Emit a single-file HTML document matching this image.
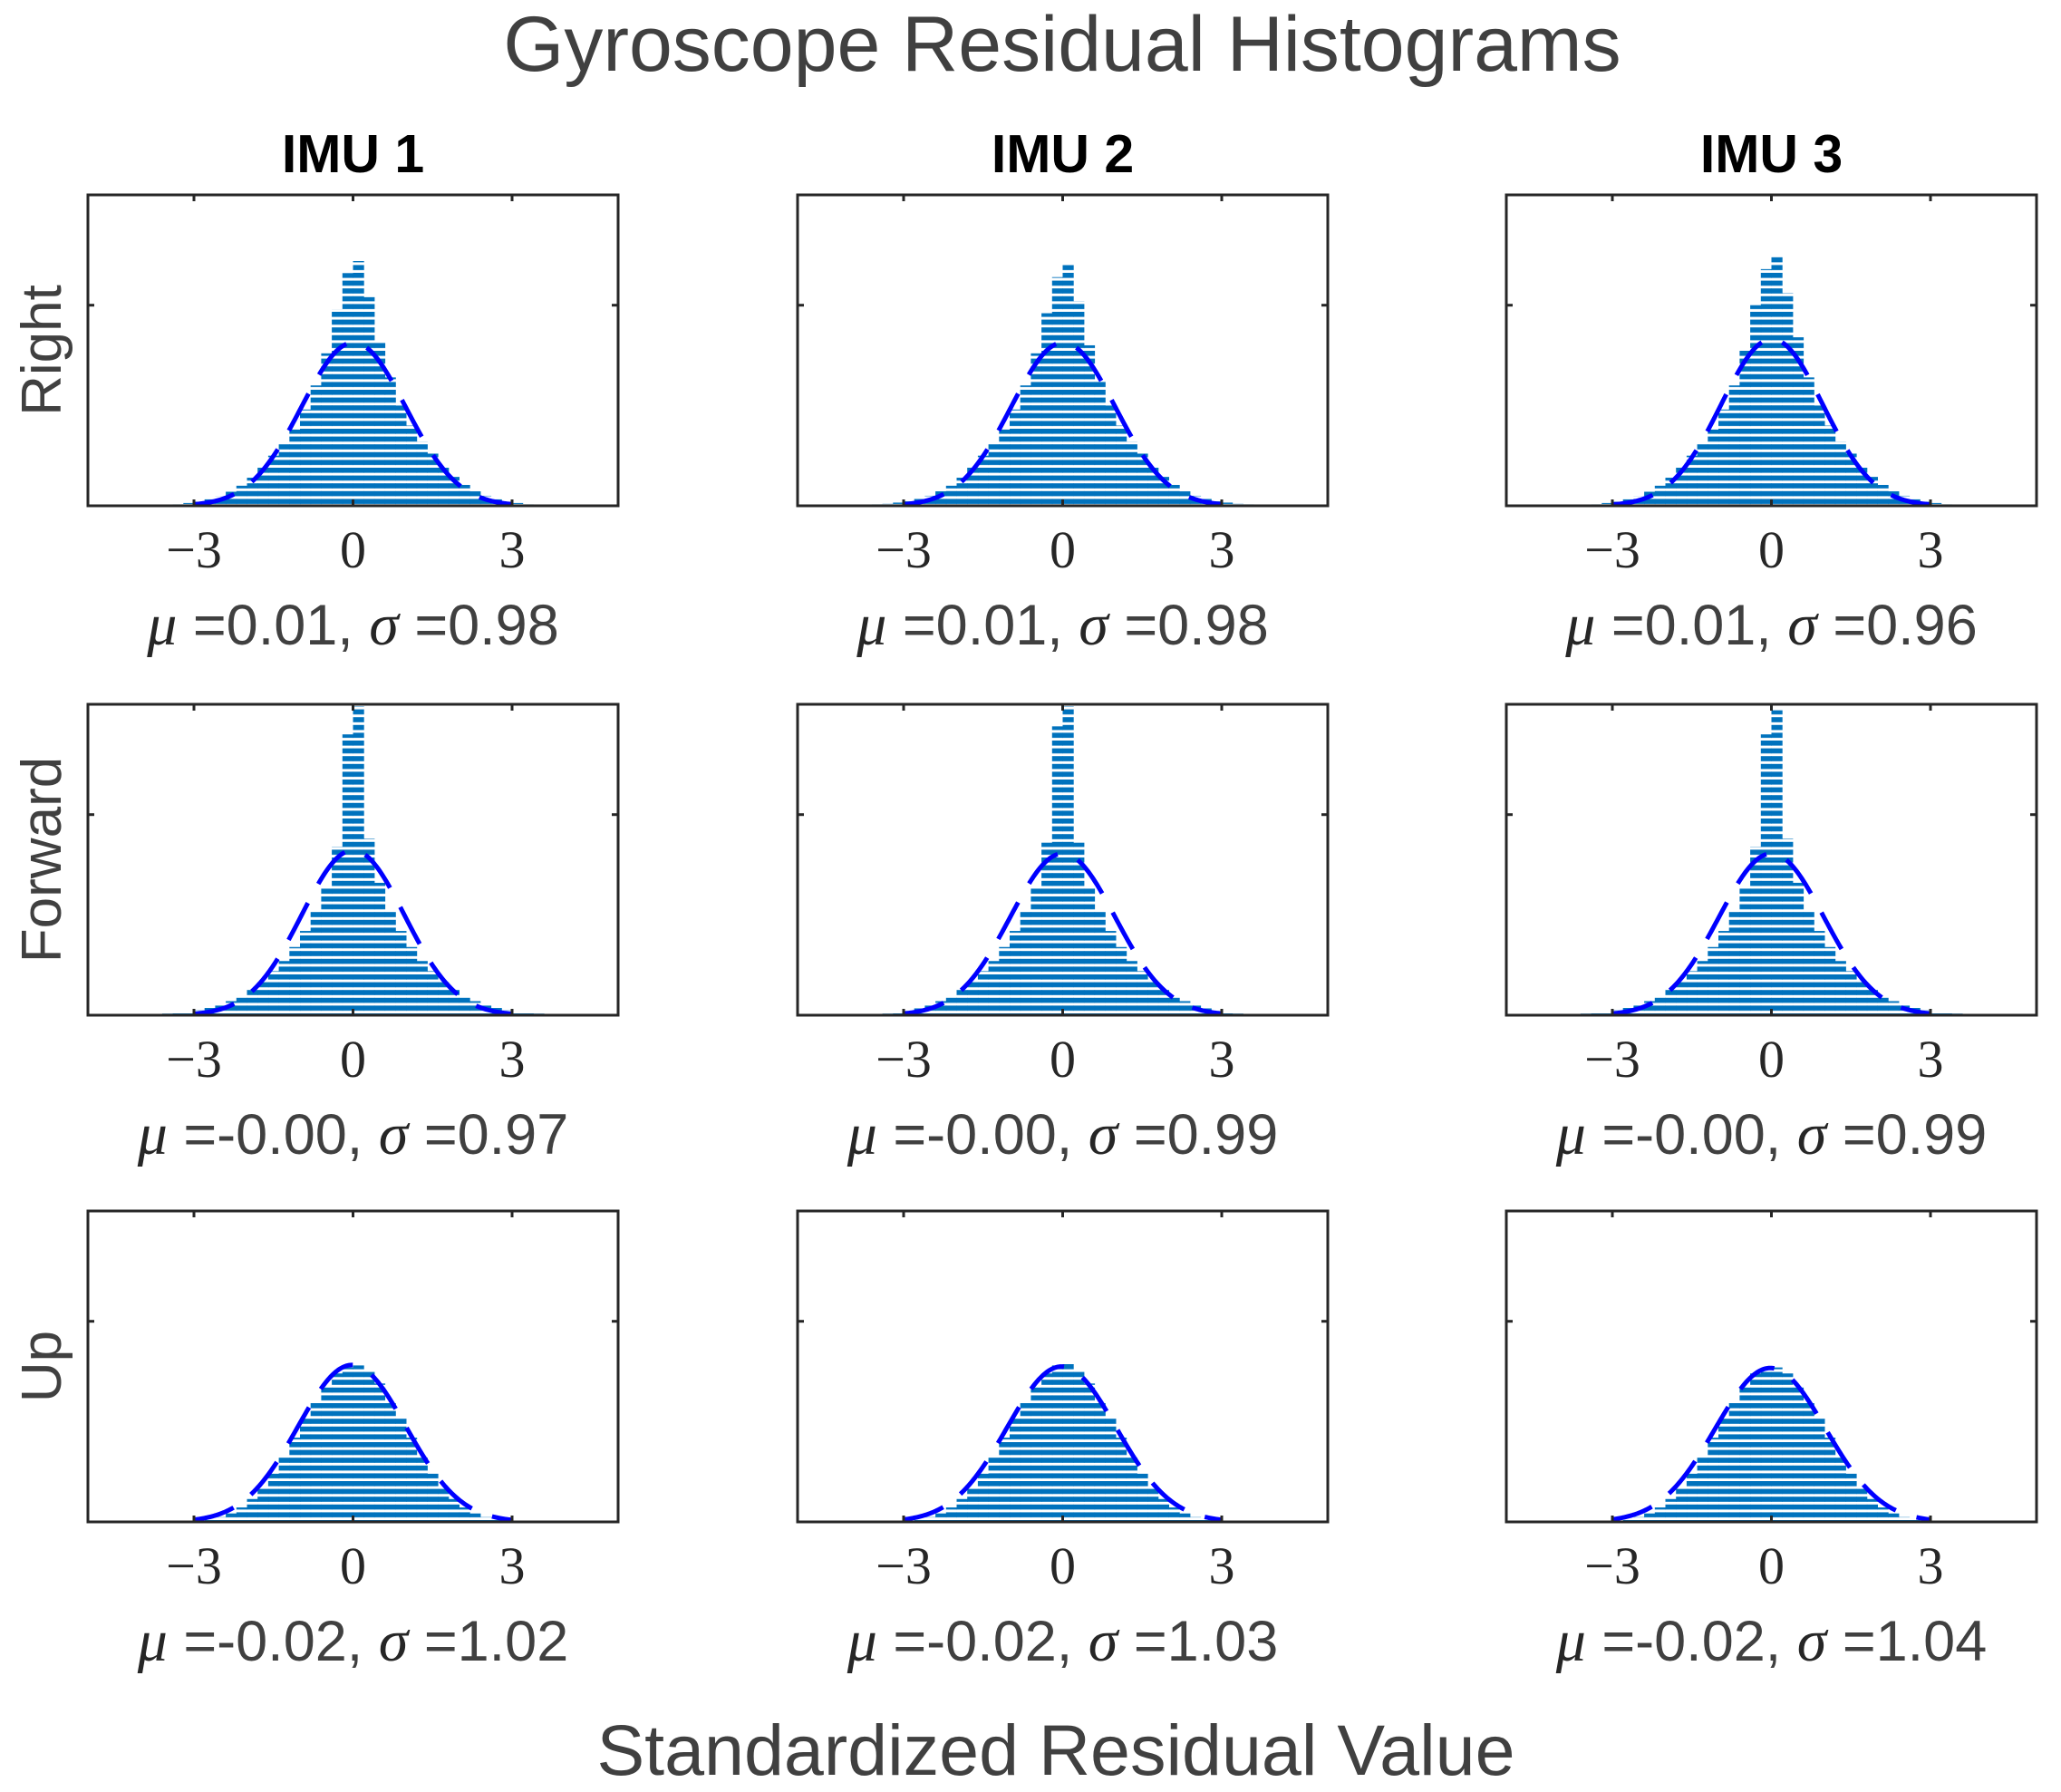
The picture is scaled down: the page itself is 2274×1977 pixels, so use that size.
<!DOCTYPE html>
<html><head><meta charset="utf-8"><style>
html,body{margin:0;padding:0;background:#fff;}
svg{display:block;}
</style></head><body>
<svg id="fig" width="2274" height="1977" viewBox="0 0 2274 1977" xmlns="http://www.w3.org/2000/svg">
<defs>
<pattern id="stripes" patternUnits="userSpaceOnUse" width="10" height="8.6"><rect x="0" y="0" width="10" height="5.6" fill="#0072BD"/></pattern>
</defs>
<text x="1172" y="78" text-anchor="middle" font-family="Liberation Sans, sans-serif" font-size="86" fill="#404040">Gyroscope Residual Histograms</text>
<text x="1165" y="1958" text-anchor="middle" font-family="Liberation Sans, sans-serif" font-size="79" fill="#404040">Standardized Residual Value</text>
<g id="panels"></g>
</svg>
<script>
const colTitles = ["IMU 1","IMU 2","IMU 3"];
const rowTitles = ["Right","Forward","Up"];
const binEdgesStart = -4;
const binWidth = 0.2;
const xTicks = [-3,0,3];
const xTickLabels = ["\u22123","0","3"];
const yTicks = [0.5];
const mus = [[0.01,0.01,0.01],[-0.00,-0.00,-0.00],[-0.02,-0.02,-0.02]];
const sigmas = [[0.98,0.98,0.96],[0.97,0.99,0.99],[1.02,1.03,1.04]];
const muLabels = [["0.01","0.01","0.01"],["-0.00","-0.00","-0.00"],["-0.02","-0.02","-0.02"]];
const sigmaLabels = [["0.98","0.98","0.96"],["0.97","0.99","0.99"],["1.02","1.03","1.04"]];
const histRight1 = [0.001,0.002,0.003,0.004,0.007,0.01,0.016,0.024,0.035,0.05,0.07,0.095,0.125,0.155,0.19,0.24,0.30,0.38,0.49,0.58,0.61,0.52,0.41,0.32,0.25,0.20,0.16,0.13,0.10,0.072,0.052,0.036,0.025,0.016,0.01,0.007,0.004,0.003,0.002,0.001];
const histRight2 = [0.002,0.003,0.004,0.005,0.008,0.011,0.017,0.025,0.036,0.05,0.07,0.095,0.125,0.155,0.19,0.24,0.30,0.38,0.48,0.57,0.60,0.51,0.40,0.31,0.25,0.20,0.16,0.13,0.10,0.072,0.052,0.036,0.025,0.017,0.011,0.008,0.005,0.004,0.003,0.002];
const histRight3 = [0.001,0.002,0.003,0.004,0.007,0.01,0.016,0.024,0.035,0.05,0.07,0.095,0.125,0.155,0.19,0.24,0.30,0.39,0.50,0.59,0.62,0.53,0.42,0.32,0.25,0.20,0.16,0.13,0.10,0.072,0.052,0.036,0.025,0.016,0.01,0.007,0.004,0.003,0.002,0.001];
const histFwd1 = [0.002,0.003,0.004,0.005,0.008,0.012,0.018,0.025,0.035,0.048,0.065,0.085,0.11,0.135,0.17,0.21,0.26,0.32,0.42,0.70,0.77,0.44,0.33,0.26,0.21,0.17,0.135,0.11,0.085,0.065,0.048,0.035,0.025,0.018,0.012,0.008,0.005,0.004,0.003,0.002];
const histFwd2 = [0.001,0.002,0.003,0.004,0.007,0.011,0.017,0.025,0.035,0.048,0.065,0.085,0.11,0.135,0.17,0.21,0.26,0.32,0.43,0.72,0.77,0.43,0.32,0.26,0.21,0.17,0.135,0.11,0.085,0.065,0.048,0.035,0.025,0.017,0.011,0.007,0.004,0.003,0.002,0.001];
const histFwd3 = [0.002,0.003,0.004,0.005,0.008,0.012,0.018,0.025,0.035,0.048,0.065,0.085,0.11,0.135,0.17,0.21,0.26,0.32,0.42,0.70,0.76,0.44,0.33,0.26,0.21,0.17,0.135,0.11,0.085,0.065,0.048,0.035,0.025,0.018,0.012,0.008,0.005,0.004,0.003,0.002];
const histUp1 = [0,0,0,0.0007,0.0015,0.003,0.006,0.012,0.021,0.036,0.057,0.085,0.12,0.165,0.21,0.26,0.30,0.34,0.37,0.385,0.39,0.375,0.345,0.30,0.26,0.21,0.165,0.12,0.085,0.057,0.036,0.021,0.012,0.006,0.003,0.0015,0.0007,0,0,0];
const histUp2 = [0,0,0,0.0007,0.0015,0.003,0.006,0.012,0.021,0.036,0.057,0.085,0.12,0.165,0.21,0.26,0.30,0.34,0.37,0.39,0.395,0.375,0.345,0.30,0.26,0.21,0.165,0.12,0.085,0.057,0.036,0.021,0.012,0.006,0.003,0.0015,0.0007,0,0,0];
const histUp3 = [0,0,0,0.0007,0.0015,0.003,0.006,0.012,0.021,0.036,0.057,0.085,0.12,0.165,0.21,0.26,0.30,0.34,0.37,0.38,0.385,0.37,0.34,0.30,0.26,0.21,0.165,0.12,0.085,0.057,0.036,0.021,0.012,0.006,0.003,0.0015,0.0007,0,0,0];
const hists = [[histRight1,histRight2,histRight3],[histFwd1,histFwd2,histFwd3],[histUp1,histUp2,histUp3]];

const NS = "http://www.w3.org/2000/svg";
const colLeft = [97,880,1662], rowTop = [215,777,1336];
const W = 585, H = 343, XMIN = -5, XMAX = 5, YMAX = 0.775;
const root = document.getElementById('panels');
function mk(tag, attrs, parent){const e=document.createElementNS(NS,tag);for(const k in attrs)e.setAttribute(k,attrs[k]);parent.appendChild(e);return e;}

for(let c=0;c<3;c++){
  const t = mk('text',{x:colLeft[c]+W/2,y:190,'text-anchor':'middle','font-family':'Liberation Sans, sans-serif','font-size':59,'font-weight':'bold',fill:'#000'},root);
  
  
  t.textContent = colTitles[c];
}
for(let r=0;r<3;r++){
  const cy = rowTop[r]+H/2;
  const t = mk('text',{x:0,y:0,transform:`translate(67,${cy}) rotate(-90)`,'text-anchor':'middle','font-family':'Liberation Sans, sans-serif','font-size':62,fill:'#404040'},root);
  
  
  t.textContent = rowTitles[r];
  for(let c=0;c<3;c++){
    const L=colLeft[c], T=rowTop[r];
    const sx = v => L + (v-XMIN)/(XMAX-XMIN)*W;
    const sy = v => T + H - v/YMAX*H;
    const g = mk('g',{},root);
    
    
    const hg = mk('g',{},g);
    
    
    const h = hists[r][c];
    for(let i=0;i<h.length;i++){
      if(h[i]<=0) continue;
      const x0 = binEdgesStart + i*binWidth;
      const b = mk('rect',{x:sx(x0),y:sy(h[i]),width:sx(x0+binWidth)-sx(x0)+0.5,height:sy(0)-sy(h[i]),fill:'url(#stripes)'},hg);
      
      
    }
    const mu=mus[r][c], s=sigmas[r][c];
    let d='';
    for(let k=0;k<=240;k++){
      const x=-3+6*k/240;
      const y=Math.exp(-0.5*((x-mu)/s)**2)/(s*Math.sqrt(2*Math.PI));
      d += (k?'L':'M')+sx(x).toFixed(2)+','+sy(y).toFixed(2);
    }
    const p = mk('path',{d:d,fill:'none',stroke:'#0000FF','stroke-width':5,'stroke-dasharray':'46 24'},g);
    
    
    const fr = mk('rect',{x:L,y:T,width:W,height:H,fill:'none',stroke:'#262626','stroke-width':3},g);
    
    
    for(let i=0;i<xTicks.length;i++){
      const x=sx(xTicks[i]);
      mk('line',{x1:x,y1:T+H,x2:x,y2:T+H-7,stroke:'#262626','stroke-width':3},g);
      mk('line',{x1:x,y1:T,x2:x,y2:T+7,stroke:'#262626','stroke-width':3},g);
      const tl = mk('text',{x:x,y:T+H+68,'text-anchor':'middle','font-family':'Liberation Serif, serif','font-size':58,fill:'#262626'},g);
      
      
      tl.textContent = xTickLabels[i];
    }
    for(const yv of yTicks){
      const y=sy(yv);
      mk('line',{x1:L,y1:y,x2:L+7,y2:y,stroke:'#262626','stroke-width':3},g);
      mk('line',{x1:L+W,y1:y,x2:L+W-7,y2:y,stroke:'#262626','stroke-width':3},g);
    }
    const st = mk('text',{x:L+W/2,y:T+H+153,'text-anchor':'middle','font-family':'Liberation Sans, sans-serif','font-size':63,fill:'#404040'},g);
    
    
    st.innerHTML = `<tspan font-family="Liberation Serif, serif" font-style="italic" fill="#262626" font-size="66">μ</tspan> =${muLabels[r][c]}, <tspan font-family="Liberation Serif, serif" font-style="italic" fill="#262626" font-size="66">σ</tspan> =${sigmaLabels[r][c]}`;
  }
}
</script>
</body></html>
